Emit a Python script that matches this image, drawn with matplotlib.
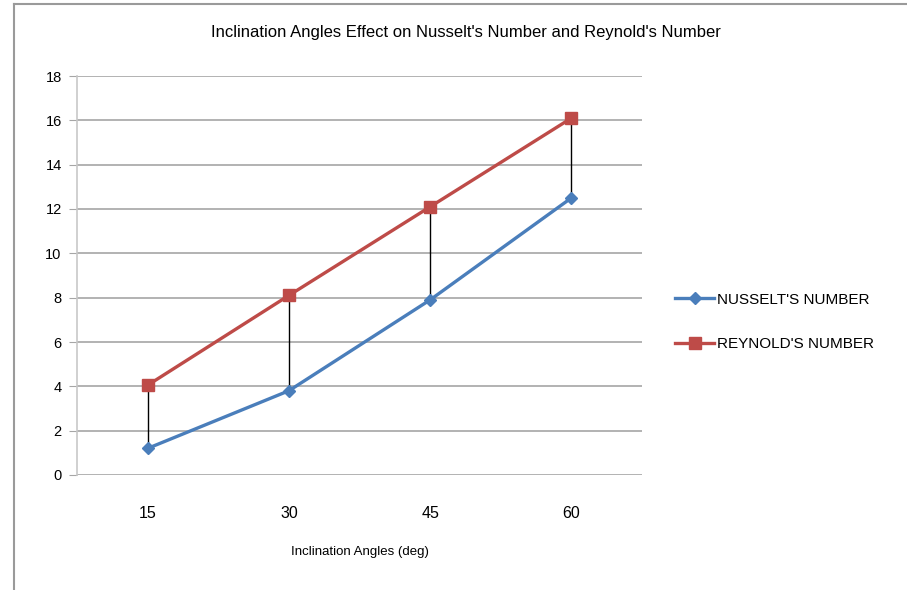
import numpy as np
import matplotlib.pyplot as plt
from matplotlib.lines import Line2D

# data
angles = ['15', '30', '45', '60']
nusselt = [1.2, 3.8, 7.9, 12.5]
reynold = [4.05, 8.1, 12.1, 16.1]
y_ticks = [0, 2, 4, 6, 8, 10, 12, 14, 16, 18]

blue = '#4a7ebb'
red = '#be4b48'
grid_color = '#a6a6a6'

plt.rcParams['font.family'] = ['Liberation Sans Narrow', 'Liberation Sans', 'DejaVu Sans']

fig = plt.figure(figsize=(9.07, 5.90), dpi=100)
ax = fig.add_axes([77 / 907, 1 - 475 / 590, (642 - 77) / 907, (475 - 76) / 590])

x = np.arange(len(angles))

# high-low lines between the two series
ax.vlines(x, nusselt, reynold, color='black', linewidth=1.0, zorder=2)

ax.plot(x, nusselt, color=blue, linewidth=2.4, marker='D', markersize=6,
        label="NUSSELT'S NUMBER", zorder=3)
ax.plot(x, reynold, color=red, linewidth=2.4, marker='s', markersize=9,
        label="REYNOLD'S NUMBER", zorder=4)

ax.set_xlim(-0.5, len(angles) - 0.5)
ax.set_ylim(0, 18)
ax.set_yticks(y_ticks)
ax.set_xticks(x)
ax.set_xticklabels(angles, fontsize=11.5)
ax.tick_params(axis='x', length=0, pad=22)
ax.tick_params(axis='y', length=6, color=grid_color, labelsize=10.5, pad=5)

ax.grid(axis='y', color=grid_color, linewidth=1.2)
ax.set_axisbelow(True)
for side in ['top', 'right', 'bottom']:
    ax.spines[side].set_visible(False)
ax.spines['left'].set_color('#c8c8c8')
ax.spines['left'].set_linewidth(1.2)

ax.set_xlabel('Inclination Angles (deg)', fontsize=9.5, labelpad=18)
fig.text(466 / 907, 1 - 33 / 590,
         "Inclination Angles Effect on Nusselt's Number and Reynold's Number",
         ha='center', va='center', fontsize=12)

handles = [
    Line2D([], [], color=blue, linewidth=2.4, marker='D', markersize=6),
    Line2D([], [], color=red, linewidth=2.4, marker='s', markersize=9),
]
fig.legend(handles, ["NUSSELT'S NUMBER", "REYNOLD'S NUMBER"],
           loc='center left', bbox_to_anchor=(661 / 907, 1 - 322 / 590),
           frameon=False, fontsize=11, handlelength=2.6, handletextpad=0.15,
           labelspacing=2.0)

# thin outer border of the chart area (left and top only are visible)
fig.add_artist(Line2D([14 / 907, 14 / 907], [0, 1 - 4 / 590],
                      transform=fig.transFigure, color='#9a9a9a', linewidth=1.5))
fig.add_artist(Line2D([14 / 907, 1], [1 - 4 / 590, 1 - 4 / 590],
                      transform=fig.transFigure, color='#9a9a9a', linewidth=1.5))

fig.savefig('out.png', dpi=100)
